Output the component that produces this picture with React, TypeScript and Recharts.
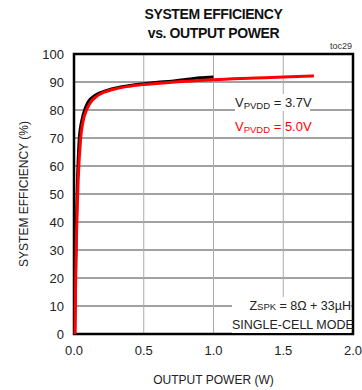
import { LineChart, Line, XAxis, YAxis, CartesianGrid, ReferenceArea } from 'recharts'

// output power (W) vs system efficiency (%)
const powerPvdd37 = [0.005, 0.01, 0.015, 0.025, 0.038, 0.055, 0.08, 0.1, 0.15, 0.2, 0.3, 0.4, 0.5, 0.6, 0.7, 0.8, 0.9, 1.0]
const effPvdd37 = [0, 20, 35, 55, 70, 76, 80.5, 82.8, 85.2, 86.4, 87.9, 88.8, 89.4, 89.9, 90.3, 90.9, 91.5, 91.8]
const powerPvdd50 = [0.007, 0.012, 0.018, 0.03, 0.048, 0.065, 0.09, 0.12, 0.16, 0.2, 0.3, 0.4, 0.5, 0.7, 1.0, 1.3, 1.5, 1.72]
const effPvdd50 = [0, 20, 35, 55, 70, 76, 80, 82.8, 84.8, 86, 87.6, 88.5, 89.1, 89.9, 90.8, 91.4, 91.8, 92.2]

const xTicks = [0, 0.5, 1, 1.5, 2]
const yTicks = [0, 10, 20, 30, 40, 50, 60, 70, 80, 90, 100]

const dataPvdd37 = powerPvdd37.map((p, i) => ({ p, eff: effPvdd37[i] }))
const dataPvdd50 = powerPvdd50.map((p, i) => ({ p, eff: effPvdd50[i] }))

const font = '"Liberation Sans", Arial, sans-serif'
const tickStyle = { fill: '#222', fontSize: 13, fontFamily: font }

export default function App() {
  return (
    <div style={{ position: 'absolute', left: 0, top: 0, width: 362, height: 390, background: '#fff', fontFamily: font }}>
      {/* title */}
      <div style={{
        position: 'absolute', left: 74, width: 279, top: 5, textAlign: 'center',
        fontSize: 14, fontWeight: 700, lineHeight: '19px', color: '#111', letterSpacing: '-0.4px',
      }}>
        SYSTEM EFFICIENCY<br />vs. OUTPUT POWER
      </div>
      <div style={{ position: 'absolute', right: 10, top: 41, fontSize: 9, color: '#333' }}>toc29</div>

      <LineChart width={362} height={390} data={dataPvdd37} margin={{ top: 54, right: 9, bottom: 26, left: 34 }}>
        <CartesianGrid vertical={false} stroke="#444" strokeWidth={1} />
        <CartesianGrid horizontal={false} stroke="#aaa" strokeWidth={1} />
        <XAxis
          dataKey="p"
          type="number"
          domain={[0, 2]}
          ticks={xTicks}
          tickFormatter={(v: number) => v.toFixed(1)}
          tick={tickStyle}
          tickLine={false}
          axisLine={false}
          tickMargin={6}
          height={30}
          label={{ value: 'OUTPUT POWER (W)', position: 'insideBottom', offset: -20, fill: '#222', fontSize: 12, fontFamily: font }}
        />
        <YAxis
          type="number"
          domain={[0, 100]}
          ticks={yTicks}
          tick={tickStyle}
          tickLine={false}
          axisLine={false}
          tickMargin={4}
          width={40}
          label={{ value: 'SYSTEM EFFICIENCY (%)', angle: -90, position: 'insideLeft', offset: -10, fill: '#222', fontSize: 12, fontFamily: font, style: { textAnchor: 'middle' } }}
        />
        <ReferenceArea x1={0} x2={2} y1={0} y2={100} fill="none" stroke="#000" strokeWidth={2.5} ifOverflow="visible" />
        <Line data={dataPvdd37} dataKey="eff" type="monotone" stroke="#000" strokeWidth={3} dot={false} isAnimationActive={false} />
        <Line data={dataPvdd50} dataKey="eff" type="monotone" stroke="#f00" strokeWidth={3} dot={false} isAnimationActive={false} />
      </LineChart>

      {/* legend */}
      <div style={{ position: 'absolute', left: 235, top: 94, width: 75, height: 17, background: '#fff', fontSize: 13, color: '#222', whiteSpace: 'nowrap', textAlign: 'center', lineHeight: '17px' }}>
        V<span style={{ fontSize: 9.5, verticalAlign: -2 }}>PVDD</span> = 3.7V
      </div>
      <div style={{ position: 'absolute', left: 235, top: 118, width: 75, fontSize: 13, color: '#f00', whiteSpace: 'nowrap', textAlign: 'center', lineHeight: '17px' }}>
        V<span style={{ fontSize: 9.5, verticalAlign: -2 }}>PVDD</span> = 5.0V
      </div>

      {/* conditions */}
      <div style={{ position: 'absolute', left: 232, top: 297, width: 119, height: 36, background: '#fff', fontSize: 12.5, color: '#222', whiteSpace: 'nowrap', textAlign: 'right', lineHeight: '18px' }}>
        Z<span style={{ fontSize: 9.5 }}>SPK</span> = 8Ω + 33µH<br />SINGLE-CELL MODE
      </div>
    </div>
  )
}
